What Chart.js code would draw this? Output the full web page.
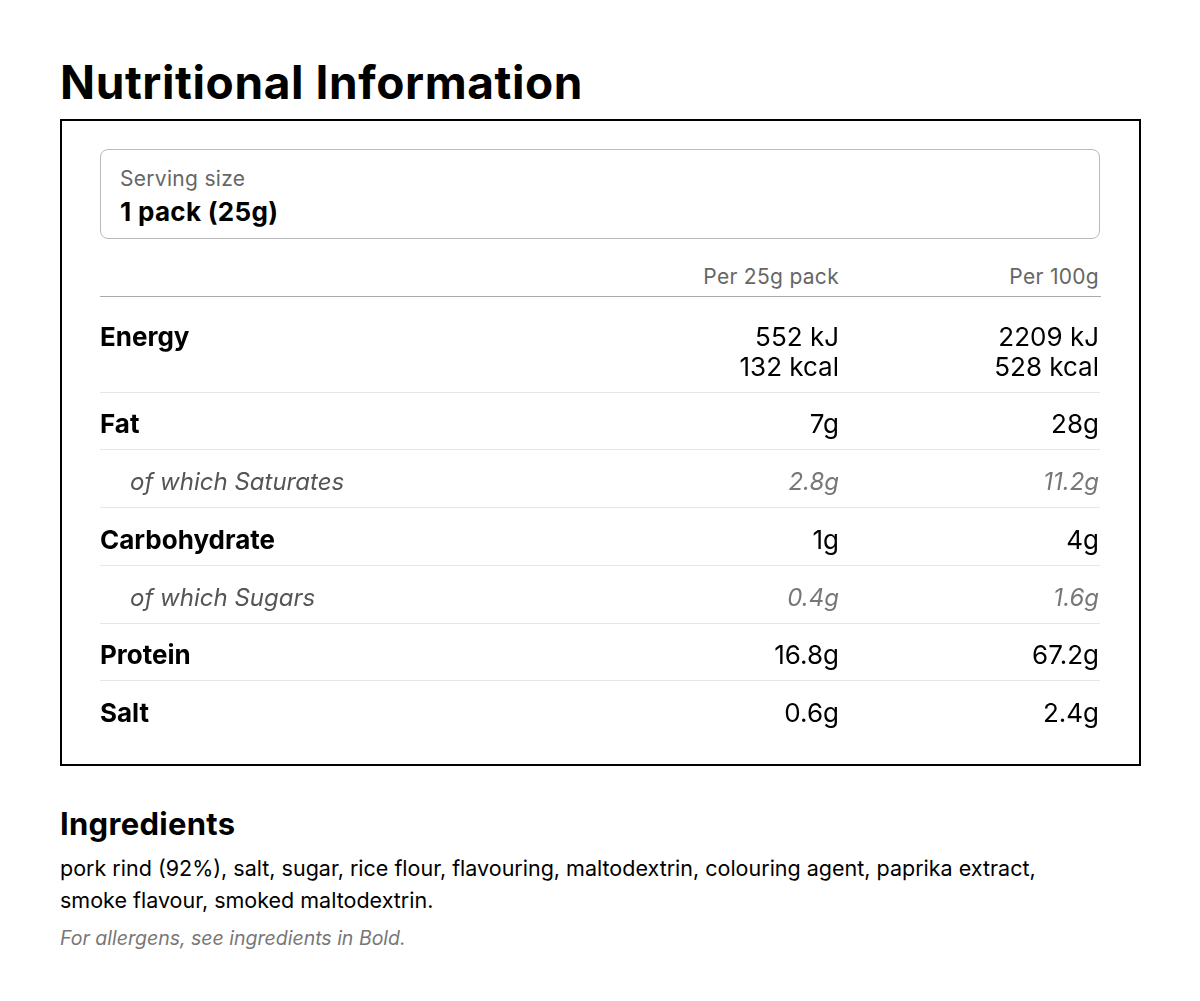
<!DOCTYPE html>
<html>
<head>
<meta charset="utf-8">
<script src="https://cdn.jsdelivr.net/npm/chart.js@4"></script>
<style>
  body { margin: 0; width: 1200px; height: 1001px; background: #fff; font-family: Inter, "Noto Sans", sans-serif; position: relative; }
  .abs { position: absolute; white-space: nowrap; }
  #title { left: 60px; top: 54px; font-size: 46px; font-weight: 700; letter-spacing: 0.6px; }
  #frame { left: 60px; top: 119px; width: 1077px; height: 643px; border: 2px solid #000; }
  #serving { left: 100px; top: 149px; width: 998px; height: 88px; border: 1px solid #bbb; border-radius: 8px; }
  #servLbl { left: 120px; top: 166px; font-size: 21px; color: #666; letter-spacing: 0.3px; }
  #servVal { left: 120px; top: 196px; font-size: 26px; font-weight: 700; letter-spacing: 0.3px; }
  .hdr { top: 264px; font-size: 21px; color: #666; text-align: right; letter-spacing: 0.3px; }
  #hdrLine { left: 100px; top: 296px; width: 1001px; height: 1px; background: #aaa; }
  #ingH { left: 60px; top: 805px; font-size: 31px; font-weight: 700; letter-spacing: 0.3px; }
  #ingT { left: 60px; top: 852px; font-size: 21.5px; line-height: 32px; white-space: normal; width: 1045px; }
  #allerg { left: 60px; top: 926px; font-size: 19.5px; color: #777; font-style: italic; }
  #wrap { position: absolute; left: 100px; top: 298px; width: 1000px; height: 440px; }
</style>
</head>
<body>
<div class="abs" id="title">Nutritional Information</div>
<div class="abs" id="frame"></div>
<div class="abs" id="serving"></div>
<div class="abs" id="servLbl"></div>
<div class="abs" id="servVal"></div>
<div class="abs hdr" id="hdr1" style="right:361px"></div>
<div class="abs hdr" id="hdr2" style="right:101px"></div>
<div class="abs" id="hdrLine"></div>
<div id="wrap"><canvas id="tbl" width="1000" height="440"></canvas></div>
<div class="abs" id="ingH">Ingredients</div>
<div class="abs" id="ingT"></div>
<div class="abs" id="allerg"></div>
<script>
const servingLabel = "Serving size";
const servingValue = "1 pack (25g)";
const columnHeaders = ["Per 25g pack", "Per 100g"];
const nutrients = ["Energy", "Fat", "of which Saturates", "Carbohydrate", "of which Sugars", "Protein", "Salt"];
const isSubRow = [false, false, true, false, true, false, false];
const perPack = [["552 kJ", "132 kcal"], ["7g"], ["2.8g"], ["1g"], ["0.4g"], ["16.8g"], ["0.6g"]];
const per100g = [["2209 kJ", "528 kcal"], ["28g"], ["11.2g"], ["4g"], ["1.6g"], ["67.2g"], ["2.4g"]];
const ingredientsText = "pork rind (92%), salt, sugar, rice flour, flavouring, maltodextrin, colouring agent, paprika extract, smoke flavour, smoked maltodextrin.";
const allergenNote = "For allergens, see ingredients in Bold.";

document.getElementById("servLbl").textContent = servingLabel;
document.getElementById("servVal").textContent = servingValue;
document.getElementById("hdr1").textContent = columnHeaders[0];
document.getElementById("hdr2").textContent = columnHeaders[1];
document.getElementById("ingT").textContent = ingredientsText;
document.getElementById("allerg").textContent = allergenNote;

// row heights in row units: multi-line rows are taller
const rowUnits = perPack.map(v => v.length > 1 ? 1.62 : 1);
const rowStart = [];
rowUnits.reduce((acc, u, i) => { rowStart[i] = acc; return acc + u; }, 0);
const totalUnits = rowUnits.reduce((a, b) => a + b, 0);

const tablePlugin = {
  id: "nutritionTable",
  afterDraw(chart) {
    const { ctx, chartArea, scales } = chart;
    const y = scales.y;
    const xL = chartArea.left, col1 = chartArea.left + 739, col2 = chartArea.right - 1;
    ctx.save();
    ctx.textBaseline = "middle";
    const fam = 'Inter, "Noto Sans", sans-serif';
    nutrients.forEach((name, i) => {
      const top = y.getPixelForValue(rowStart[i]);
      const bot = y.getPixelForValue(rowStart[i] + rowUnits[i]);
      if (i < nutrients.length - 1) {
        ctx.strokeStyle = "#e6e6e6"; ctx.lineWidth = 1;
        ctx.beginPath(); ctx.moveTo(chartArea.left, Math.round(bot) + 0.5); ctx.lineTo(chartArea.right, Math.round(bot) + 0.5); ctx.stroke();
      }
      const lines = perPack[i].length;
      const firstY = lines > 1 ? top + 40 : (top + bot) / 2 + 5;
      const sub = isSubRow[i];
      ctx.textAlign = "left";
      ctx.fillStyle = sub ? "#555" : "#000";
      ctx.font = sub ? `italic 24px ${fam}` : `bold 26px ${fam}`;
      ctx.fillText(name, sub ? xL + 30 : xL, firstY);
      ctx.textAlign = "right";
      ctx.fillStyle = sub ? "#777" : "#000";
      ctx.font = sub ? `italic 24px ${fam}` : `26px ${fam}`;
      perPack[i].forEach((t, k) => ctx.fillText(t, col1, firstY + k * 30));
      per100g[i].forEach((t, k) => ctx.fillText(t, col2, firstY + k * 30));
    });
    ctx.restore();
  }
};

new Chart(document.getElementById("tbl").getContext("2d"), {
  type: "scatter",
  data: { datasets: [{ data: [] }] },
  options: {
    responsive: false,
    animation: false,
    layout: { padding: 0 },
    plugins: { legend: { display: false }, tooltip: { enabled: false } },
    scales: {
      x: { display: false, min: 0, max: 1 },
      y: { display: false, min: 0, max: totalUnits, reverse: true }
    }
  },
  plugins: [tablePlugin]
});
</script>
</body>
</html>
